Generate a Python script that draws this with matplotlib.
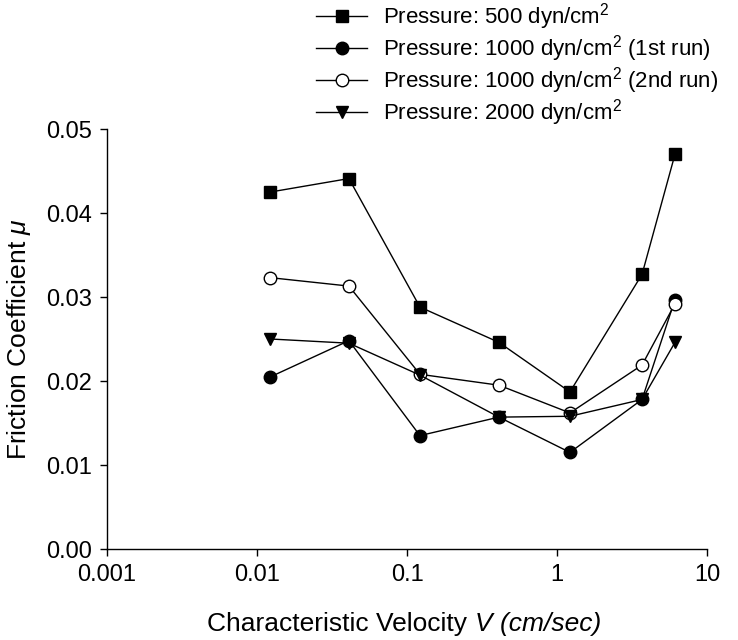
import numpy as np
import matplotlib
matplotlib.use("Agg")
import matplotlib.pyplot as plt

# 読み取ったデータ
velocity = [0.0123, 0.041, 0.122, 0.41, 1.22, 3.69, 6.12]
mu_500 = [0.0425, 0.0441, 0.0288, 0.0246, 0.0187, 0.0327, 0.0470]
mu_1000_1st = [0.0205, 0.0248, 0.0135, 0.0157, 0.0115, 0.0178, 0.0297]
mu_1000_2nd = [0.0323, 0.0313, 0.0208, 0.0195, 0.0162, 0.0219, 0.0292]
mu_2000 = [0.0250, 0.0245, 0.0207, 0.0157, 0.0158, 0.0178, 0.0246]

labels = ["Pressure: 500 dyn/cm$^2$",
          "Pressure: 1000 dyn/cm$^2$ (1st run)",
          "Pressure: 1000 dyn/cm$^2$ (2nd run)",
          "Pressure: 2000 dyn/cm$^2$"]
x_ticks = [0.001, 0.01, 0.1, 1, 10]
x_ticklabels = ["0.001", "0.01", "0.1", "1", "10"]
y_ticks = [0.00, 0.01, 0.02, 0.03, 0.04, 0.05]

plt.rcParams["font.family"] = ["Liberation Sans", "DejaVu Sans"]
plt.rcParams["mathtext.fontset"] = "custom"
plt.rcParams["mathtext.rm"] = "Liberation Sans"
plt.rcParams["mathtext.it"] = "Liberation Sans:italic"

fig = plt.figure(figsize=(7.38, 6.4), dpi=100)
ax = fig.add_axes([107/738, 1-549/640, 600/738, 420/640])

lw = 1.0
ax.plot(velocity, mu_500, "-s", color="black", lw=lw, ms=8.5, mfc="black", label=labels[0])
ax.plot(velocity, mu_1000_1st, "-o", color="black", lw=lw, ms=9, mfc="black", label=labels[1])
ax.plot(velocity, mu_1000_2nd, "-o", color="black", lw=lw, ms=9, mfc="white", label=labels[2])
ax.plot(velocity, mu_2000, "-v", color="black", lw=lw, ms=9, mfc="black", label=labels[3])

ax.set_xscale("log")
ax.set_xlim(0.001, 10)
ax.set_ylim(0, 0.05)
ax.set_xticks(x_ticks)
ax.set_xticklabels(x_ticklabels)
ax.minorticks_off()
ax.set_yticks(y_ticks)
ax.set_yticklabels(["%.2f" % v for v in y_ticks])
ax.tick_params(direction="out", length=5, width=1, labelsize=17, pad=6)

for s in ["top", "right"]:
    ax.spines[s].set_visible(False)
for s in ["left", "bottom"]:
    ax.spines[s].set_linewidth(1)

# x軸ラベル: 前半は立体、後半はイタリック
xl = ax.set_xlabel("Characteristic Velocity ", fontsize=19)
ax.xaxis.set_label_coords(0.39, -0.15)
ax.annotate("V (cm/sec)", xy=(1, 0), xycoords=xl, ha="left", va="bottom",
            fontsize=19, style="italic")
ax.set_ylabel(r"Friction Coefficient $\mathit{\mu}$", fontsize=19, labelpad=9)

fig.legend(loc="upper left", bbox_to_anchor=(315/738, 1.0), frameon=False,
           fontsize=16, handlelength=2.3, handletextpad=0.72, labelspacing=0.05,
           borderaxespad=0.0, borderpad=0.05)

plt.savefig("out.png", dpi=100)
